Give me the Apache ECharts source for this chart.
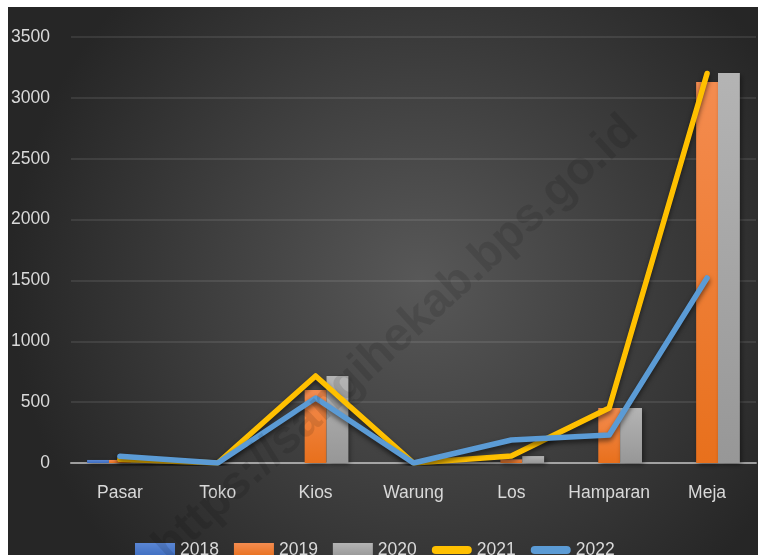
<!DOCTYPE html>
<html>
<head>
<meta charset="utf-8">
<script src="https://cdn.jsdelivr.net/npm/echarts@6/dist/echarts.min.js"></script>
<style>
  html, body { margin: 0; padding: 0; background: #ffffff; }
  #main { position: absolute; left: 8px; top: 7px; width: 750px; height: 548px; }
</style>
</head>
<body>
<div id="main"></div>
<script>
// data
var categories = ['Pasar', 'Toko', 'Kios', 'Warung', 'Los', 'Hamparan', 'Meja'];
var v2018 = [25, 0, 0, 0, 0, 0, 0];
var v2019 = [25, 0, 600, 0, 30, 452, 3130];
var v2020 = [20, 0, 715, 0, 57, 452, 3205];
var v2021 = [30, 0, 715, 0, 57, 452, 3200];
var v2022 = [55, 0, 534, 0, 189, 230, 1520];
var yTicks = [0, 500, 1000, 1500, 2000, 2500, 3000, 3500];

var font = '"Liberation Sans", Arial, sans-serif';
var textColor = '#d9d9d9';
var lineIcon = 'path://M4,0 L36,0 A4,4 0 0 1 36,8 L4,8 A4,4 0 0 1 4,0 Z';

function grad(top, bottom) {
  return new echarts.graphic.LinearGradient(0, 0, 0, 1, [
    { offset: 0, color: top },
    { offset: 1, color: bottom }
  ]);
}

var chartDom = document.getElementById('main');
var myChart = echarts.init(chartDom);

var barShadow = { shadowColor: 'rgba(0,0,0,0.45)', shadowBlur: 5, shadowOffsetX: 2, shadowOffsetY: 2 };
var lineShadow = { shadowColor: 'rgba(0,0,0,0.55)', shadowBlur: 5, shadowOffsetY: 3 };

var option = {
  animation: false,
  backgroundColor: new echarts.graphic.RadialGradient(0.55, 0.5, 0.75, [
    { offset: 0, color: '#585858' },
    { offset: 1, color: '#262626' }
  ]),
  textStyle: { fontFamily: font },
  grid: { left: 57, right: 2, top: 30, bottom: 92 },
  legend: {
    left: 122,
    top: 529,
    itemWidth: 40,
    itemHeight: 14,
    itemGap: 15,
    textStyle: { color: textColor, fontSize: 17.5, fontFamily: font },
    data: [
      { name: '2018', icon: 'rect' },
      { name: '2019', icon: 'rect' },
      { name: '2020', icon: 'rect' },
      { name: '2021', icon: lineIcon },
      { name: '2022', icon: lineIcon }
    ]
  },
  xAxis: {
    type: 'category',
    data: categories,
    axisTick: { show: false },
    axisLine: { lineStyle: { color: 'rgba(210,210,210,0.65)', width: 2 } },
    axisLabel: { color: textColor, fontSize: 17.5, margin: 21, interval: 0, fontFamily: font }
  },
  yAxis: {
    type: 'value',
    min: yTicks[0],
    max: yTicks[yTicks.length - 1],
    interval: 500,
    axisLine: { show: false },
    axisTick: { show: false },
    axisLabel: {
      color: textColor, fontSize: 17.5, margin: 21, fontFamily: font,
      formatter: function (v) { return String(v); }
    },
    splitLine: { lineStyle: { color: 'rgba(255,255,255,0.12)', width: 1.5 } }
  },
  series: [
    {
      name: '2018', type: 'bar', data: v2018, barGap: '0%', barCategoryGap: '33%',
      itemStyle: Object.assign({ color: grad('#5a86d4', '#3e6dc0') }, barShadow)
    },
    {
      name: '2019', type: 'bar', data: v2019, barGap: '0%', barCategoryGap: '33%',
      itemStyle: Object.assign({ color: grad('#f48c50', '#e8701c') }, barShadow)
    },
    {
      name: '2020', type: 'bar', data: v2020, barGap: '0%', barCategoryGap: '33%',
      itemStyle: Object.assign({ color: grad('#b4b4b4', '#979797') }, barShadow)
    },
    {
      name: '2021', type: 'line', data: v2021, symbol: 'none',
      lineStyle: Object.assign({ color: '#ffc000', width: 5.5, cap: 'round', join: 'round' }, lineShadow),
      itemStyle: { color: '#ffc000' }
    },
    {
      name: '2022', type: 'line', data: v2022, symbol: 'none',
      lineStyle: Object.assign({ color: '#5b9bd5', width: 5.5, cap: 'round', join: 'round' }, lineShadow),
      itemStyle: { color: '#5b9bd5' }
    }
  ],
  graphic: [
    {
      type: 'text',
      z: 100,
      x: 388,
      y: 332,
      rotation: 0.74,
      style: {
        text: 'https://sangihekab.bps.go.id',
        font: 'bold 47px "Liberation Sans", Arial, sans-serif',
        fill: 'rgba(0,0,0,0.11)',
        align: 'center',
        verticalAlign: 'middle'
      }
    }
  ]
};

option && myChart.setOption(option);
window.addEventListener('resize', function () {
  myChart.resize();
});
</script>
</body>
</html>
